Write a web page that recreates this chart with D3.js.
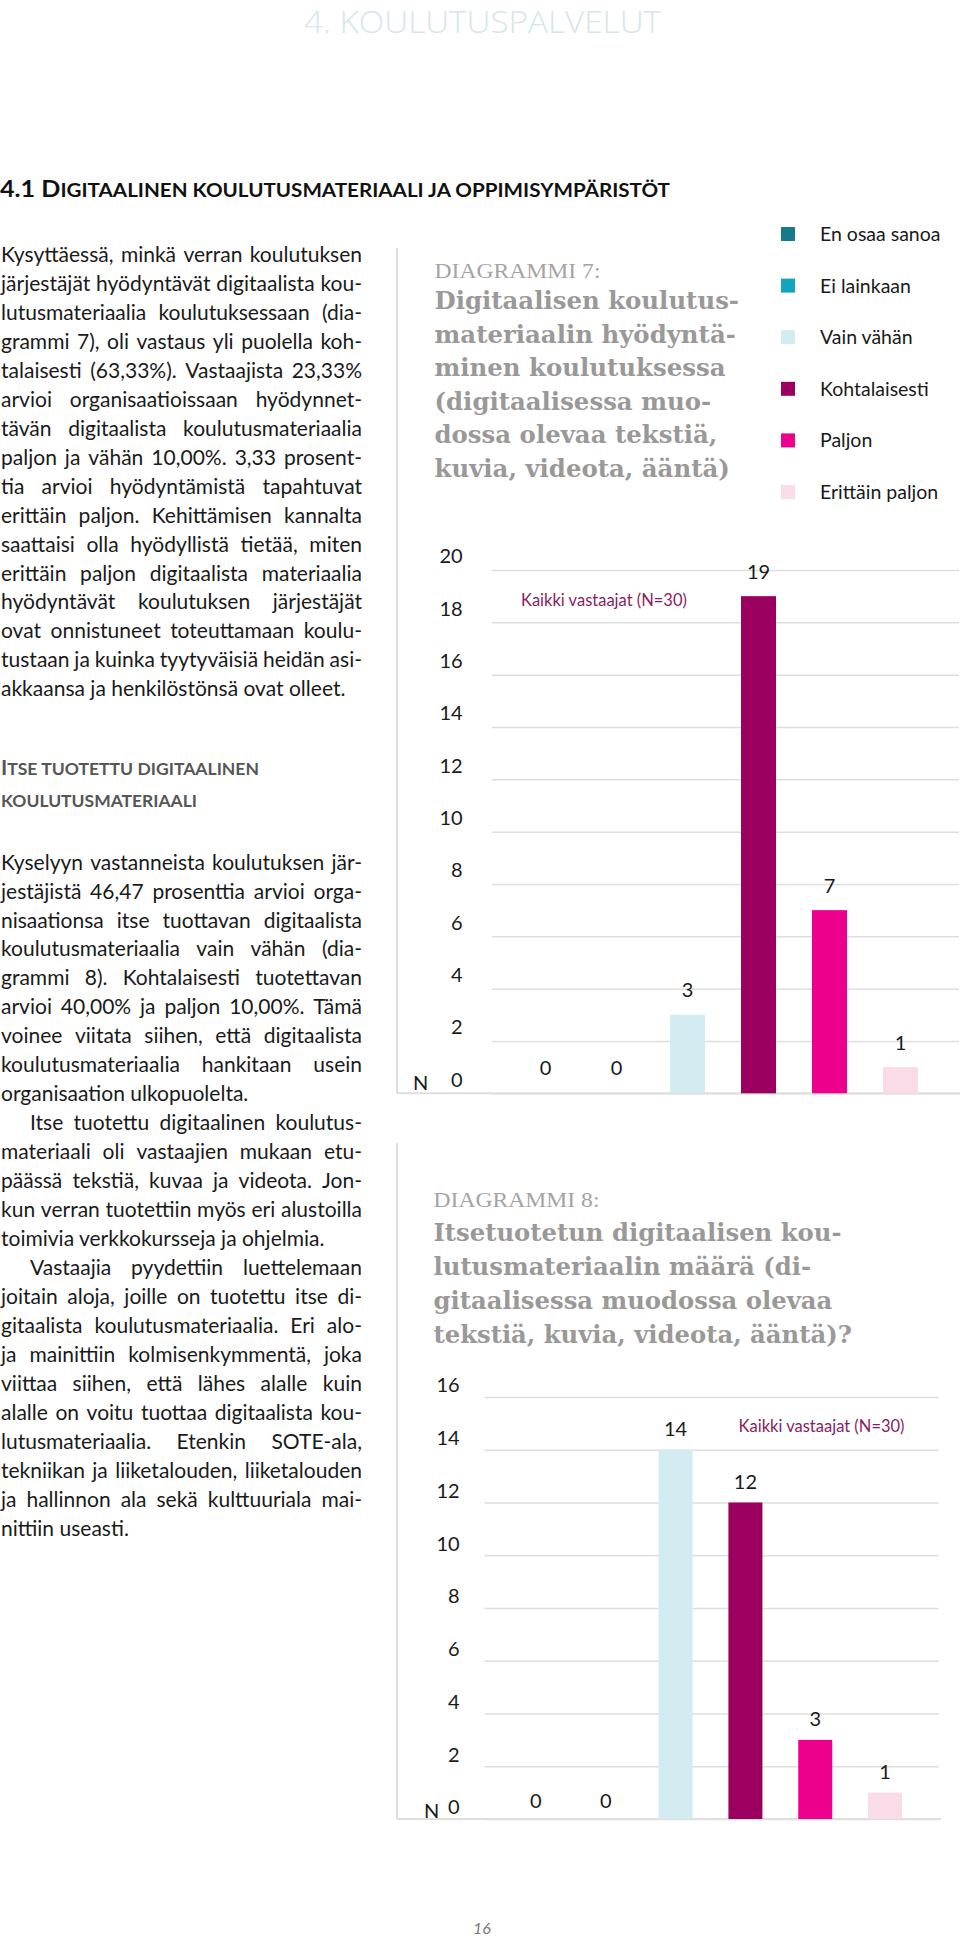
<!DOCTYPE html>
<html><head><meta charset="utf-8">
<script src="https://cdn.jsdelivr.net/npm/d3@7"></script>
<style>html,body{margin:0;padding:0;background:#fff}svg{display:block}</style>
</head><body>
<svg id="page" width="960" height="1938"></svg>
<script>
// ---------------- DATA ----------------
const categories = ["En osaa sanoa","Ei lainkaan","Vain vähän","Kohtalaisesti","Paljon","Erittäin paljon"];
const colors = ["#177a8a","#13a4bf","#d3ecf1","#9b0061","#ec008c","#fadbe8"];
const values7 = [0,0,3,19,7,1];
const values8 = [0,0,14,12,3,1];
const ticks7 = [0,2,4,6,8,10,12,14,16,18,20];
const ticks8 = [0,2,4,6,8,10,12,14,16];
const respondents = "Kaikki vastaajat (N=30)";
const title7Label = "DIAGRAMMI 7:";
const title7 = ["Digitaalisen koulutus-","materiaalin hyödyntä-","minen koulutuksessa","(digitaalisessa muo-","dossa olevaa tekstiä,","kuvia, videota, ääntä)"];
const title8Label = "DIAGRAMMI 8:";
const title8 = ["Itsetuotetun digitaalisen kou-","lutusmateriaalin määrä (di-","gitaalisessa muodossa olevaa","tekstiä, kuvia, videota, ääntä)?"];
const pageHeader = "4. KOULUTUSPALVELUT";
const pageNumber = "16";
const heading1 = [["4.1 D",true],["IGITAALINEN KOULUTUSMATERIAALI JA OPPIMISYMPÄRISTÖT",false]];
const subheadA = [["I",true],["TSE TUOTETTU DIGITAALINEN",false]];
const subheadB = [["KOULUTUSMATERIAALI",false]];
const para1 = [
"Kysyttäessä, minkä verran koulutuksen",
"järjestäjät hyödyntävät digitaalista kou-",
"lutusmateriaalia koulutuksessaan (dia-",
"grammi 7), oli vastaus yli puolella koh-",
"talaisesti (63,33%). Vastaajista 23,33%",
"arvioi organisaatioissaan hyödynnet-",
"tävän digitaalista koulutusmateriaalia",
"paljon ja vähän 10,00%. 3,33 prosent-",
"tia arvioi hyödyntämistä tapahtuvat",
"erittäin paljon. Kehittämisen kannalta",
"saattaisi olla hyödyllistä tietää, miten",
"erittäin paljon digitaalista materiaalia",
"hyödyntävät koulutuksen järjestäjät",
"ovat onnistuneet toteuttamaan koulu-",
"tustaan ja kuinka tyytyväisiä heidän asi-",
"akkaansa ja henkilöstönsä ovat olleet."];
const para2 = [
"Kyselyyn vastanneista koulutuksen jär-",
"jestäjistä 46,47 prosenttia arvioi orga-",
"nisaationsa itse tuottavan digitaalista",
"koulutusmateriaalia vain vähän (dia-",
"grammi 8). Kohtalaisesti tuotettavan",
"arvioi 40,00% ja paljon 10,00%. Tämä",
"voinee viitata siihen, että digitaalista",
"koulutusmateriaalia hankitaan usein",
"organisaation ulkopuolelta."];
const para3 = [
"Itse tuotettu digitaalinen koulutus-",
"materiaali oli vastaajien mukaan etu-",
"päässä tekstiä, kuvaa ja videota. Jon-",
"kun verran tuotettiin myös eri alustoilla",
"toimivia verkkokursseja ja ohjelmia."];
const para4 = [
"Vastaajia pyydettiin luettelemaan",
"joitain aloja, joille on tuotettu itse di-",
"gitaalista koulutusmateriaalia. Eri alo-",
"ja mainittiin kolmisenkymmentä, joka",
"viittaa siihen, että lähes alalle kuin",
"alalle on voitu tuottaa digitaalista kou-",
"lutusmateriaalia. Etenkin SOTE-ala,",
"tekniikan ja liiketalouden, liiketalouden",
"ja hallinnon ala sekä kulttuuriala mai-",
"nittiin useasti."];

// ---------------- HELPERS ----------------
const svg = d3.select("#page");
const SANS = "Lato, 'Open Sans', 'DejaVu Sans', sans-serif";
const SERIF_B = "'DejaVu Serif', 'Liberation Serif', serif";
const SERIF = "'Liberation Serif', 'DejaVu Serif', serif";
const TXT = "#1a1a1a";

function measure(text, family, size, weight, style) {
  const t = svg.append("text").attr("font-family", family).attr("font-size", size)
    .attr("font-weight", weight || 400).attr("font-style", style || "normal").text(text);
  const w = t.node().getComputedTextLength();
  t.remove();
  return w;
}

// ---------------- HEADER ----------------
svg.append("text").attr("x", 304).attr("y", 33)
  .attr("font-family", "'Open Sans', Lato, sans-serif").attr("font-weight", 300)
  .attr("font-size", 32).attr("fill", "#d4e7ea")
  .attr("textLength", 357).attr("lengthAdjust", "spacingAndGlyphs")
  .text(pageHeader);

function smallCaps(x, y, parts, big, small, len, fill) {
  const t = svg.append("text").attr("x", x).attr("y", y)
    .attr("font-family", SANS).attr("font-weight", 700).attr("fill", fill);
  parts.forEach(p => t.append("tspan").attr("font-size", p[1] ? big : small).text(p[0]));
  t.attr("textLength", len).attr("lengthAdjust", "spacingAndGlyphs");
}
smallCaps(0, 197, heading1, 22, 18, 670, "#111");
smallCaps(1, 775, subheadA, 21, 17.5, 258, "#565656");
smallCaps(1, 807, subheadB, 21, 17.5, 196, "#565656");

// ---------------- BODY TEXT ----------------
const samples = [["akkaansa ja henkilöstönsä ovat olleet.", 340], ["organisaation ulkopuolelta.", 250],
                 ["toimivia verkkokursseja ja ohjelmia.", 328], ["nittiin useasti.", 126]];
let mSum = 0, tSum = 0;
samples.forEach(s => { mSum += measure(s[0], SANS, 20); tSum += s[1]; });
const FS = 20 * tSum / mSum;
const COL_W = 362, INDENT = 29;

function drawPara(lines, startY, pitch, indentFirst) {
  lines.forEach((line, i) => {
    const cy = startY + i * pitch;
    const base = cy + 0.3 * FS;
    const x0 = (i === 0 && indentFirst) ? INDENT : 0;
    const t = svg.append("text").attr("y", base).attr("font-family", SANS)
      .attr("font-size", FS).attr("fill", TXT);
    const last = i === lines.length - 1;
    if (last) { t.attr("x", x0 + 1).text(line); return; }
    const words = line.split(" ");
    const ws = words.map(w => measure(w, SANS, FS));
    const gap = (COL_W - x0 - 1 - d3.sum(ws)) / (words.length - 1);
    let x = x0 + 1;
    words.forEach((w, k) => {
      t.append("tspan").attr("x", x).text(w);
      x += ws[k] + gap;
    });
  });
}
drawPara(para1, 256, 28.93, false);
const P = 28.96, S2 = 863.3;
drawPara(para2, S2, P, false);
drawPara(para3, S2 + para2.length * P, P, true);
drawPara(para4, S2 + (para2.length + para3.length) * P, P, true);

// ---------------- CHART TITLES ----------------
function drawTitle(label, lines, x, labelCy, firstCy, pitch, firstWidth) {
  svg.append("text").attr("x", x).attr("y", labelCy + 7)
    .attr("font-family", SERIF).attr("font-size", 20).attr("fill", "#a6a3a3")
    .attr("textLength", 166).attr("lengthAdjust", "spacingAndGlyphs").text(label);
  const ref = measure(lines[0], SERIF_B, 25, 700);
  const k = firstWidth / ref;
  lines.forEach((l, i) => {
    svg.append("text").attr("x", x).attr("y", firstCy + i * pitch + 8.5)
      .attr("font-family", SERIF_B).attr("font-weight", 700).attr("font-size", 25)
      .attr("fill", "#9b9898")
      .attr("textLength", measure(l, SERIF_B, 25, 700) * k).attr("lengthAdjust", "spacingAndGlyphs")
      .text(l);
  });
}
drawTitle(title7Label, title7, 434.5, 271, 300.5, 33.6, 304.5);
drawTitle(title8Label, title8, 433.5, 1200, 1232, 34.3, 408);

// ---------------- LEGEND ----------------
const legend = svg.append("g");
categories.forEach((c, i) => {
  const cy = 234 + i * 51.6;
  legend.append("rect").attr("x", 781).attr("y", cy - 7).attr("width", 14).attr("height", 14).attr("fill", colors[i]);
  legend.append("text").attr("x", 820).attr("y", cy + 7).attr("font-family", SANS)
    .attr("font-size", 19.5).attr("fill", TXT).text(c);
});

// ---------------- CHARTS ----------------
function drawChart(cfg) {
  const g = svg.append("g");
  const y = d3.scaleLinear().domain([0, d3.max(cfg.ticks)]).range([cfg.baseY, cfg.topY]);
  const x = d3.scaleBand().domain(categories).range(cfg.band)
    .paddingInner(cfg.pi).paddingOuter(cfg.pi / 2);

  // frame
  g.append("line").attr("x1", 397).attr("x2", 397).attr("y1", cfg.frameTop).attr("y2", cfg.baseY)
    .attr("stroke", "#dedede").attr("stroke-width", 2);
  // grid + tick labels
  const axis = d3.axisLeft(y).tickValues(cfg.ticks).tickFormat(d3.format("d"))
    .tickSize(-(cfg.gridX1 - cfg.gridX0)).tickPadding(cfg.gridX0 - cfg.tickRight);
  const ag = g.append("g").attr("transform", `translate(${cfg.gridX0},0)`).call(axis);
  ag.select(".domain").remove();
  ag.selectAll(".tick line").attr("stroke", "#dedede").attr("stroke-width", 1.5);
  ag.selectAll(".tick text").attr("y", -cfg.labelLift).attr("font-family", SANS)
    .attr("font-size", 20).attr("fill", TXT);
  g.append("line").attr("x1", 397).attr("x2", cfg.frameRight).attr("y1", cfg.baseY).attr("y2", cfg.baseY)
    .attr("stroke", "#dedede").attr("stroke-width", 2);
  // N label
  g.append("text").attr("x", cfg.nX).attr("y", cfg.baseY - cfg.labelLift + 10.5)
    .attr("font-family", SANS).attr("font-size", 20).attr("fill", TXT).text("N");
  // bars
  g.selectAll("rect.bar").data(cfg.values).join("rect").attr("class", "bar")
    .attr("x", (d, i) => x(categories[i])).attr("y", d => y(d))
    .attr("width", x.bandwidth()).attr("height", d => cfg.baseY - y(d))
    .attr("fill", (d, i) => colors[i]);
  // value labels
  g.selectAll("text.val").data(cfg.values).join("text").attr("class", "val")
    .attr("x", (d, i) => x(categories[i]) + x.bandwidth() / 2)
    .attr("y", d => (d === 0 ? cfg.baseY - cfg.zeroLift : y(d) - cfg.valueLift) + 7)
    .attr("text-anchor", "middle").attr("font-family", SANS).attr("font-size", 20)
    .attr("fill", TXT).text(d => d);
  // respondents note
  g.append("text").attr("x", cfg.noteX).attr("y", cfg.noteCy + 6)
    .attr("font-family", SANS).attr("font-size", 16.5).attr("fill", "#8b1c61").text(respondents);
}

drawChart({values: values7, ticks: ticks7, baseY: 1093.3, topY: 570, gridX0: 492, gridX1: 959,
  band: [510, 936], pi: 0.507, tickRight: 462.7, labelLift: 13.5, valueLift: 24.5, zeroLift: 25.6,
  nX: 413, frameTop: 248, frameRight: 960, noteX: 521, noteCy: 600});
drawChart({values: values8, ticks: ticks8, baseY: 1819, topY: 1397, gridX0: 484.6, gridX1: 938.6,
  band: [501, 920], pi: 0.513, tickRight: 459.6, labelLift: 11.5, valueLift: 21, zeroLift: 18,
  nX: 424, frameTop: 1143, frameRight: 941, noteX: 738.6, noteCy: 1426});

// ---------------- PAGE NUMBER ----------------
svg.append("text").attr("x", 482).attr("y", 1934).attr("text-anchor", "middle")
  .attr("font-family", SANS).attr("font-style", "italic").attr("font-size", 16)
  .attr("fill", "#7a7a7a").text(pageNumber);
</script>
</body></html>
